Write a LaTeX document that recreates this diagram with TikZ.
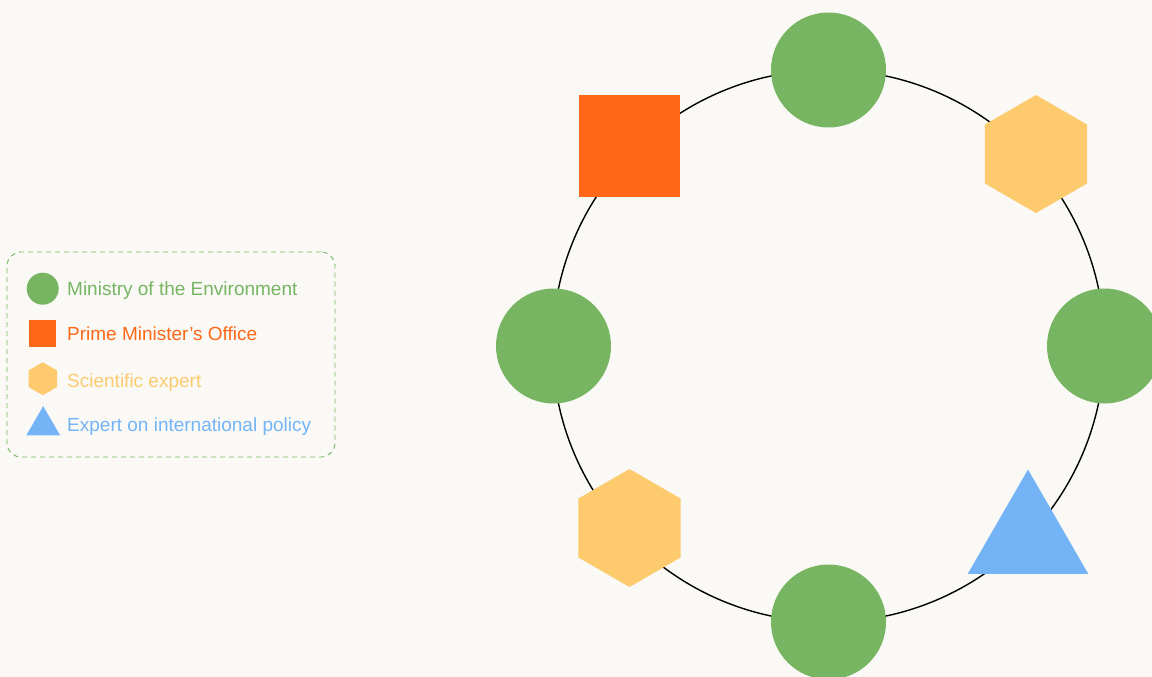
\documentclass[tikz,border=0pt]{standalone}
\usepackage{fontspec}
\setmainfont{Liberation Sans}
\usepackage{xcolor}
\usetikzlibrary{positioning, shapes.geometric}
\definecolor{PaperA}{HTML}{FAF9F5}
\definecolor{GreenA}{HTML}{77B563}
\definecolor{OrangeA}{HTML}{FF6816}
\definecolor{YellowA}{HTML}{FDCB6E}
\definecolor{BlueA}{HTML}{74B4F6}
\tikzset{
  ministry/.style={circle, fill=GreenA, inner sep=0pt, minimum size=115pt},
  office/.style={rectangle, fill=OrangeA, inner sep=0pt, minimum size=101pt},
  scientist/.style={regular polygon, regular polygon sides=6,
                    shape border rotate=30, fill=YellowA, inner sep=0pt,
                    minimum size=118pt},
  policy/.style={regular polygon, regular polygon sides=3,
                 fill=BlueA, inner sep=0pt, minimum size=139pt},
  keytext/.style={anchor=base west, inner sep=0pt,
                  font=\fontsize{19}{22}\selectfont},
  legendbox/.style={draw=GreenA, dash pattern=on 5pt off 4pt,
                    rounded corners=14pt, line width=0.9pt}
}

\begin{document}
\begin{tikzpicture}[x=1pt, y=-1pt]

  % ----- canvas -----
  \fill[PaperA] (0,0) rectangle (1152,677);
  \useasboundingbox (0,0) rectangle (1152,677);
  \clip (0,0) rectangle (1152,677);

  % ----- ring -----
  \node[circle, draw=black, line width=1.4pt, inner sep=0pt,
        minimum size=552pt] (ring) at (828.5,346) {};

  % ----- members on the ring -----
  \node[ministry]  (top)    at (828.5,70)  {};
  \node[scientist] (sciNE)  at (1036,154)  {};
  \node[ministry]  (right)  at (1104.5,346) {};
  \node[policy]    (intl)   at (1028,539)  {};
  \node[ministry]  (bottom) at (828.5,622) {};
  \node[scientist] (sciSW)  at (629.5,528) {};
  \node[ministry]  (left)   at (553.5,346) {};
  \node[office]    (pmo)    at (629.3,146) {};

  % ----- legend -----
  \node[legendbox, minimum width=328pt, minimum height=205pt]
    (legend) at (171,354.5) {};

  \node[ministry, minimum size=32pt]   (kMin) at (42.7,288.7) {};
  \node[office, minimum size=27pt]     (kPmo) at (42.5,333.3) {};
  \node[scientist, minimum size=33pt]  (kSci) at (42.8,378.7) {};
  \node[policy, minimum size=39pt]     (kInt) at (43.2,425.6) {};

  \node[keytext, text=GreenA]  (tMin) at (67,295)   {Ministry of the Environment};
  \node[keytext, text=OrangeA] (tPmo) at (67,340)   {Prime Minister’s Office};
  \node[keytext, text=YellowA] (tSci) at (67,387.3) {Scientific expert};
  \node[keytext, text=BlueA]   (tInt) at (67,431.7) {Expert on international policy};

\end{tikzpicture}
\end{document}
